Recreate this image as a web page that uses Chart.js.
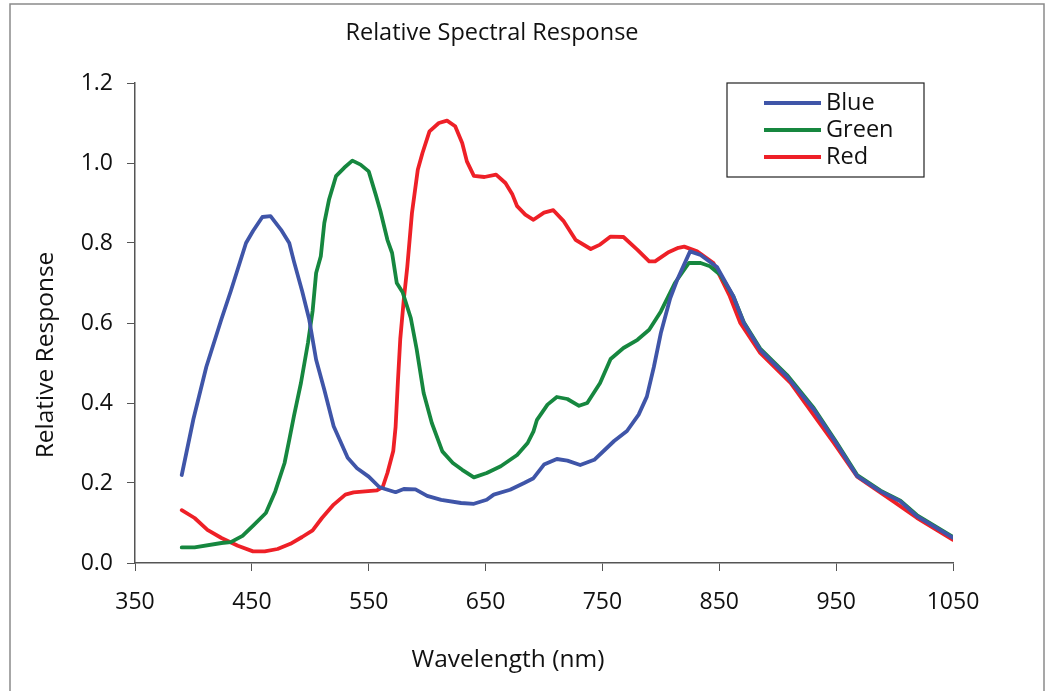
<!DOCTYPE html>
<html>
<head>
<meta charset="utf-8">
<script src="https://cdn.jsdelivr.net/npm/chart.js@4/dist/chart.umd.min.js"></script>
<style>
  body { margin: 0; background: #fff; }
  #wrap { width: 1045px; height: 691px; }
</style>
</head>
<body>
<div id="wrap"><canvas id="chart" width="1045" height="691"></canvas></div>
<script>
// Values (wavelength in nm, relative response)
const blueNm = [390, 400, 411, 424, 432, 445, 451, 459, 466, 475, 482, 486, 493, 499, 505, 512, 520, 532, 540, 550, 559, 564, 573, 580, 590, 600, 612, 629, 640, 651, 657, 671, 683, 691, 700, 711, 720, 731, 743, 751, 760, 771, 781, 788, 794, 800, 808, 814, 825, 834, 848, 862, 871, 885, 908, 931, 950, 968, 988, 1005, 1019, 1050];
const blueVal = [0.22, 0.36, 0.49, 0.61, 0.68, 0.80, 0.83, 0.865, 0.867, 0.833, 0.80, 0.754, 0.68, 0.61, 0.508, 0.433, 0.342, 0.263, 0.237, 0.216, 0.19, 0.185, 0.177, 0.185, 0.184, 0.168, 0.158, 0.15, 0.148, 0.158, 0.171, 0.183, 0.20, 0.212, 0.246, 0.26, 0.256, 0.245, 0.258, 0.28, 0.305, 0.33, 0.371, 0.416, 0.49, 0.575, 0.662, 0.708, 0.779, 0.77, 0.74, 0.667, 0.60, 0.533, 0.466, 0.383, 0.30, 0.217, 0.179, 0.154, 0.117, 0.063];

const greenNm = [390, 401, 424, 432, 442, 452, 462, 470, 478, 482, 486, 492, 498, 502, 505, 509, 512, 516, 522, 529, 536, 543, 550, 556, 560, 566, 570, 574, 579, 586, 591, 597, 604, 613, 622, 630, 640, 651, 663, 677, 686, 691, 694, 703, 711, 720, 730, 737, 748, 757, 768, 780, 790, 800, 812, 824, 834, 842, 851, 862, 871, 885, 908, 931, 950, 968, 988, 1005, 1019, 1050];
const greenVal = [0.039, 0.039, 0.05, 0.052, 0.068, 0.096, 0.125, 0.179, 0.25, 0.308, 0.367, 0.45, 0.55, 0.63, 0.725, 0.767, 0.85, 0.908, 0.967, 0.988, 1.006, 0.996, 0.979, 0.921, 0.88, 0.808, 0.775, 0.70, 0.677, 0.6125, 0.535, 0.425, 0.35, 0.279, 0.25, 0.233, 0.214, 0.225, 0.242, 0.27, 0.30, 0.329, 0.358, 0.396, 0.415, 0.41, 0.393, 0.40, 0.45, 0.51, 0.5375, 0.558, 0.583, 0.629, 0.70, 0.75, 0.75, 0.742, 0.72, 0.667, 0.602, 0.536, 0.47, 0.387, 0.303, 0.22, 0.181, 0.156, 0.12, 0.065];

const redNm = [390, 401, 412, 424, 438, 451, 461, 472, 483, 493, 502, 510, 520, 530, 537, 547, 557, 562, 566, 571, 573, 575, 577, 580, 583, 587, 592, 596, 602, 610, 617, 624, 630, 634, 640, 649, 659, 667, 673, 677, 684, 691, 700, 708, 717, 727, 740, 748, 757, 768, 780, 790, 795, 806, 815, 820, 831, 845, 859, 868, 885, 911, 948, 968, 999, 1019, 1050];
const redVal = [0.132, 0.1125, 0.083, 0.0625, 0.043, 0.029, 0.029, 0.035, 0.048, 0.065, 0.0815, 0.1125, 0.146, 0.171, 0.1765, 0.179, 0.1815, 0.19, 0.225, 0.28, 0.34, 0.455, 0.56, 0.658, 0.74, 0.875, 0.983, 1.025, 1.079, 1.10, 1.106, 1.092, 1.05, 1.004, 0.968, 0.965, 0.971, 0.95, 0.921, 0.892, 0.871, 0.858, 0.876, 0.882, 0.854, 0.808, 0.785, 0.796, 0.816, 0.815, 0.783, 0.754, 0.754, 0.776, 0.788, 0.791, 0.779, 0.75, 0.667, 0.60, 0.525, 0.45, 0.30, 0.216, 0.154, 0.113, 0.058];

const seriesNames = ["Blue", "Green", "Red"];
const seriesColors = ["#3F55A8", "#16873F", "#EE2027"];
const xTicks = [350, 450, 550, 650, 750, 850, 950, 1050];
const yTicks = [0, 0.2, 0.4, 0.6, 0.8, 1.0, 1.2];

const FONT = "'Open Sans', 'Noto Sans', sans-serif";

const toPoints = (xs, ys) => xs.map((x, i) => ({ x: x, y: ys[i] }));

// titles, frame and legend box drawn on top
const decor = {
  id: "decor",
  afterDraw(chart) {
    const ctx = chart.ctx;
    ctx.save();
    ctx.strokeStyle = "#8a8a8a";
    ctx.lineWidth = 1.5;
    ctx.strokeRect(10, 4, 1034, 700);

    ctx.fillStyle = "#111";
    ctx.textAlign = "center";
    ctx.textBaseline = "middle";
    ctx.font = "23.5px " + FONT;
    ctx.fillText("Relative Spectral Response", 492, 33);

    ctx.font = "24.5px " + FONT;
    ctx.fillText("Wavelength (nm)", 508, 660);

    ctx.save();
    ctx.translate(46, 355);
    ctx.rotate(-Math.PI / 2);
    ctx.fillText("Relative Response", 0, 0);
    ctx.restore();

    // legend
    ctx.fillStyle = "#fff";
    ctx.fillRect(727, 83, 197, 94);
    ctx.strokeStyle = "#222";
    ctx.lineWidth = 1.2;
    ctx.strokeRect(727, 83, 197, 94);
    const rows = [103, 130, 157];
    ctx.font = "23.5px " + FONT;
    ctx.textAlign = "left";
    chart.data.datasets.forEach((ds, i) => {
      ctx.strokeStyle = ds.borderColor;
      ctx.lineWidth = 3.8;
      ctx.beginPath();
      ctx.moveTo(764, rows[i]);
      ctx.lineTo(821, rows[i]);
      ctx.stroke();
      ctx.fillStyle = "#111";
      ctx.fillText(ds.label, 826, rows[i]);
    });
    ctx.restore();
  },
};

new Chart(document.getElementById("chart"), {
  type: "line",
  data: {
    datasets: [
      { label: seriesNames[0], data: toPoints(blueNm, blueVal), borderColor: seriesColors[0] },
      { label: seriesNames[1], data: toPoints(greenNm, greenVal), borderColor: seriesColors[1] },
      { label: seriesNames[2], data: toPoints(redNm, redVal), borderColor: seriesColors[2] },
    ],
  },
  options: {
    responsive: false,
    animation: false,
    devicePixelRatio: 1,
    layout: { padding: { top: 83, left: 0, right: 92, bottom: 0 } },
    elements: {
      point: { radius: 0 },
      line: { borderWidth: 3.8, tension: 0, fill: false, borderJoinStyle: "round", borderCapStyle: "round" },
    },
    plugins: {
      legend: { display: false },
      title: { display: false },
      tooltip: { enabled: false },
    },
    scales: {
      x: {
        type: "linear",
        min: 350,
        max: 1050,
        afterFit: (scale) => { scale.height = 128; },
        afterBuildTicks: (scale) => { scale.ticks = xTicks.map((v) => ({ value: v })); },
        ticks: {
          color: "#111",
          font: { family: FONT, size: 23 },
          padding: 18,
          maxRotation: 0,
          callback: (v) => String(v),
        },
        grid: { drawOnChartArea: false, drawTicks: true, tickLength: 8, color: "#555" },
        border: { display: true, color: "#555", width: 1.5 },
      },
      y: {
        min: 0,
        max: 1.2,
        afterFit: (scale) => { scale.width = 135; },
        afterBuildTicks: (scale) => { scale.ticks = yTicks.map((v) => ({ value: v })); },
        ticks: {
          color: "#111",
          font: { family: FONT, size: 23 },
          padding: 14,
          callback: (v) => v.toFixed(1),
        },
        grid: { drawOnChartArea: false, drawTicks: true, tickLength: 8, color: "#555" },
        border: { display: true, color: "#555", width: 1.5 },
      },
    },
  },
  plugins: [decor],
});
</script>
</body>
</html>
